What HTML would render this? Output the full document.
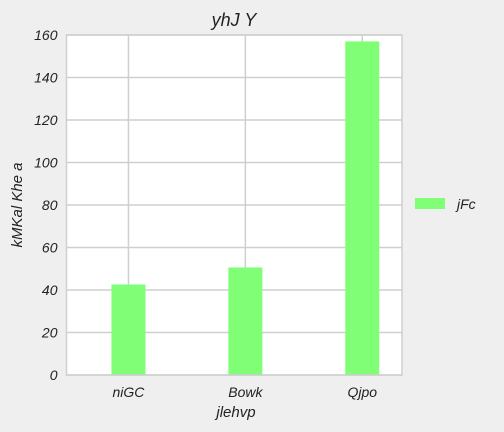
<!DOCTYPE html>
<html><head><meta charset="utf-8"><style>
body{margin:0;background:#efefef;}
svg{display:block;font-family:"Liberation Sans",sans-serif;font-style:italic;}
</style></head><body>
<svg width="504" height="432">
<rect width="504" height="432" fill="#efefef"/>
<g id="plot"></g>
<text x="234" y="26" font-size="18" text-anchor="middle" fill="#222">yhJ Y</text>
<text x="236" y="417" font-size="15" text-anchor="middle" fill="#222">jlehvp</text>
<text transform="translate(22,205) rotate(-90)" font-size="15" text-anchor="middle" fill="#222">kMKal Khe a</text>
<g>
<rect x="415" y="198" width="30" height="11" fill="#80ff76"/>
<text x="457" y="209" font-size="14" fill="#222">jFc</text>
</g>
</svg>
<script>
const categories=["niGC","Bowk","Qjpo"];
const values=[42.6,50.6,157];
const yTicks=[0,20,40,60,80,100,120,140,160];
const L=66.5,R=402,T=35,B=375,yMax=160;
const xMin=-0.53,xMax=2.34;
const y=v=>B-(B-T)*v/yMax;
const x=i=>L+(R-L)*(i-xMin)/(xMax-xMin);
const g=document.getElementById('plot');
const NS="http://www.w3.org/2000/svg";
function mk(t,a){const e=document.createElementNS(NS,t);for(const k in a)e.setAttribute(k,a[k]);g.appendChild(e);return e;}
const bg=mk('rect',{x:L,y:T,width:R-L,height:B-T,fill:'#fff'});


yTicks.forEach(t=>{
 const l=mk('line',{x1:L,x2:R,y1:y(t),y2:y(t),stroke:'#cfcfcf','stroke-width':1.5});
 
 
 const tx=mk('text',{x:L-9,y:y(t)+5,'font-size':14,'text-anchor':'end',fill:'#222'});
 tx.textContent=t;
 
 
});
categories.forEach((c,i)=>{
 const l=mk('line',{x1:x(i),x2:x(i),y1:T,y2:B,stroke:'#cfcfcf','stroke-width':1.5});
 
 
});
categories.forEach((c,i)=>{
 const b=mk('rect',{x:x(i)-17,y:y(values[i]),width:34,height:B-y(values[i]),fill:'#80ff76'});
 
 
 const tx=mk('text',{x:x(i),y:B+22,'font-size':14,'text-anchor':'middle',fill:'#222'});
 tx.textContent=c;
 
 
});
const fr=mk('rect',{x:L,y:T,width:R-L,height:B-T,fill:'none',stroke:'#cfcfcf','stroke-width':1.5});


</script>
</body></html>
